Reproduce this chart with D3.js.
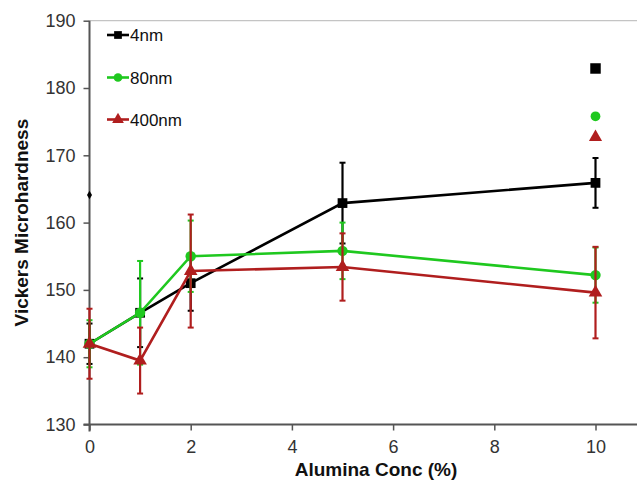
<!DOCTYPE html>
<html>
<head>
<meta charset="utf-8">
<script src="https://cdn.jsdelivr.net/npm/d3@7"></script>
<style>
  html, body { margin: 0; padding: 0; background: #fff; }
  svg { display: block; font-family: "Liberation Sans", Arial, sans-serif; }
</style>
</head>
<body>
<svg id="chart" width="637" height="480"></svg>
<script>
// ---- data ----
const concentrations = [0, 1, 2, 5, 10];
const seriesNames = ["4nm", "80nm", "400nm"];
const hardness4nm   = [142.0, 146.6, 151.0, 162.9, 165.9];
const err4nm        = [3.0, 5.1, 4.1, 6.0, 3.7];
const hardness80nm  = [142.0, 146.6, 155.0, 155.8, 152.2];
const err80nm       = [3.5, 7.7, 5.3, 4.2, 4.1];
const hardness400nm = [142.0, 139.5, 152.8, 153.4, 149.6];
const err400nm      = [5.2, 4.9, 8.4, 5.0, 6.8];
// isolated markers at 10 %
const extraX = 10;
const extraValues = [182.9, 175.8, 172.7];
// stray diamond on the y axis
const strayPoint = { x: 0, y: 164.1 };
const xTicks = [0, 2, 4, 6, 8, 10];
const yTicks = [130, 140, 150, 160, 170, 180, 190];

const colors = ["#000000", "#1fc81f", "#b01e1e"];
const shapes = [d3.symbolSquare, d3.symbolCircle, d3.symbolTriangle];

const svg = d3.select("#chart");
svg.append("rect").attr("width", 637).attr("height", 480).attr("fill", "#fff");

const x = d3.scaleLinear().domain([0, 10]).range([89.5, 595.5]);
const y = d3.scaleLinear().domain([130, 190]).range([424.5, 20.7]);
const xEnd = 637;

// top plot border
svg.append("line")
  .attr("x1", x(0)).attr("x2", xEnd)
  .attr("y1", y(190)).attr("y2", y(190))
  .attr("stroke", "#c4c4c4").attr("stroke-width", 1.2);

// y axis
const yAxis = svg.append("g").attr("transform", `translate(${x(0)},0)`)
  .call(d3.axisLeft(y).tickValues(yTicks).tickSize(6).tickPadding(8));
yAxis.select(".domain").attr("stroke", "#555").attr("stroke-width", 2)
  .attr("d", `M0,${y(190)}V${y(130) + 7}`);
yAxis.selectAll(".tick line").attr("stroke", "#555").attr("stroke-width", 1.5);
yAxis.selectAll(".tick text").attr("font-size", 18).attr("fill", "#333")
  .attr("font-family", "Liberation Sans, Arial, sans-serif");

// x axis
const xAxis = svg.append("g").attr("transform", `translate(0,${y(130)})`)
  .call(d3.axisBottom(x).tickValues(xTicks).tickSize(6).tickPadding(10));
xAxis.select(".domain").attr("stroke", "#555").attr("stroke-width", 2)
  .attr("d", `M${x(0) - 6},0H${xEnd}`);
xAxis.selectAll(".tick line").attr("stroke", "#555").attr("stroke-width", 1.5);
xAxis.selectAll(".tick text").attr("font-size", 18).attr("fill", "#333")
  .attr("font-family", "Liberation Sans, Arial, sans-serif");

// axis titles
svg.append("text")
  .attr("x", 376).attr("y", 476)
  .attr("text-anchor", "middle")
  .attr("font-size", 19).attr("font-weight", "bold").attr("fill", "#111")
  .text("Alumina Conc (%)");
svg.append("text")
  .attr("transform", `translate(28,${(y(190) + y(130)) / 2}) rotate(-90)`)
  .attr("text-anchor", "middle")
  .attr("font-size", 19).attr("font-weight", "bold").attr("fill", "#111")
  .text("Vickers Microhardness");

// series
const allSeries = [
  { name: seriesNames[0], vals: hardness4nm, errs: err4nm },
  { name: seriesNames[1], vals: hardness80nm, errs: err80nm },
  { name: seriesNames[2], vals: hardness400nm, errs: err400nm }
];
const symSizes = [95, 85, 80];

allSeries.forEach((s, i) => {
  const g = svg.append("g");
  const pts = concentrations.map((c, j) => ({ c, v: s.vals[j], e: s.errs[j] }));
  const line = d3.line().x(d => x(d.c)).y(d => y(d.v));
  g.append("path").datum(pts)
    .attr("d", line).attr("fill", "none")
    .attr("stroke", colors[i]).attr("stroke-width", 2.6);
  // error bars
  pts.forEach(d => {
    g.append("line")
      .attr("x1", x(d.c)).attr("x2", x(d.c))
      .attr("y1", y(d.v - d.e)).attr("y2", y(d.v + d.e))
      .attr("stroke", colors[i]).attr("stroke-width", 2.2);
    [d.v - d.e, d.v + d.e].forEach(v => {
      g.append("line")
        .attr("x1", x(d.c) - 3).attr("x2", x(d.c) + 3)
        .attr("y1", y(v)).attr("y2", y(v))
        .attr("stroke", colors[i]).attr("stroke-width", 2);
    });
  });
  g.selectAll("path.mk").data(pts).enter().append("path")
    .attr("class", "mk")
    .attr("transform", d => `translate(${x(d.c)},${y(d.v)})`)
    .attr("d", d3.symbol().type(shapes[i]).size(symSizes[i]))
    .attr("fill", colors[i]);
});

// isolated markers
extraValues.forEach((v, i) => {
  svg.append("path")
    .attr("transform", `translate(${x(extraX)},${y(v)})`)
    .attr("d", d3.symbol().type(shapes[i]).size(i === 0 ? 110 : 75))
    .attr("fill", colors[i]);
});

// stray diamond
svg.append("path")
  .attr("transform", `translate(${x(strayPoint.x)},${y(strayPoint.y)})`)
  .attr("d", d3.symbol().type(d3.symbolDiamond).size(22))
  .attr("fill", "#000");

// legend
const legendY = [35, 77.5, 119.5];
seriesNames.forEach((n, i) => {
  const g = svg.append("g");
  g.append("line").attr("x1", 107).attr("x2", 129)
    .attr("y1", legendY[i]).attr("y2", legendY[i])
    .attr("stroke", colors[i]).attr("stroke-width", 2.6);
  g.append("path")
    .attr("transform", `translate(118,${legendY[i]})`)
    .attr("d", d3.symbol().type(shapes[i]).size(60))
    .attr("fill", colors[i]);
  g.append("text").attr("x", 130).attr("y", legendY[i] + 6)
    .attr("font-size", 17).attr("fill", "#111")
    .text(n);
});
</script>
</body>
</html>
